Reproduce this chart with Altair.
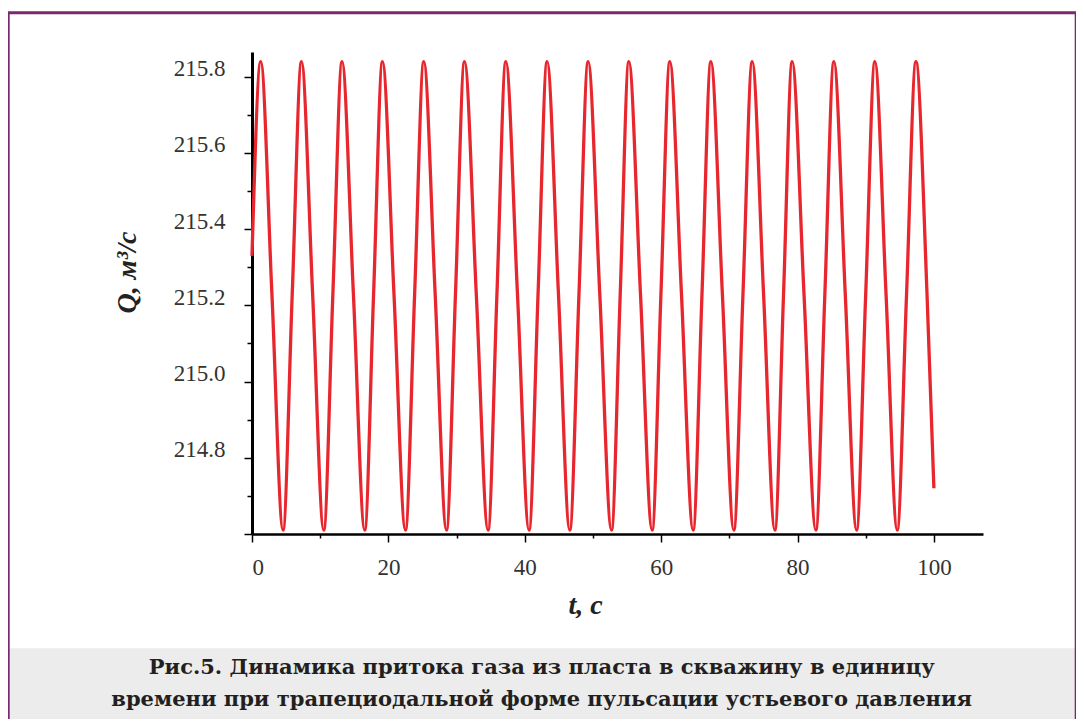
import altair as alt
import pandas as pd

# ---- data ----
peak_t = [1.28, 7.25, 13.20, 19.13, 25.19, 31.16, 37.22, 43.27, 49.29, 55.26,
          61.27, 67.29, 73.35, 79.21, 85.33, 91.34, 97.36]
peak_q = [215.84, 215.84, 215.84, 215.84, 215.84, 215.84, 215.84, 215.84, 215.84,
          215.84, 215.84, 215.84, 215.84, 215.84, 215.84, 215.84, 215.84]
trough_t = [4.55, 10.52, 16.53, 22.50, 28.52, 34.62, 40.63, 46.60, 52.72, 58.68,
            64.69, 70.66, 76.68, 82.69, 88.66, 94.62]
trough_q = [214.61, 214.61, 214.61, 214.61, 214.61, 214.61, 214.61, 214.61,
            214.61, 214.61, 214.61, 214.61, 214.61, 214.61, 214.61, 214.61]
fall_mid_t = [2.92, 8.89, 14.87, 20.82, 26.86, 32.89, 38.93, 44.94, 51.00, 56.97,
              62.98, 68.98, 75.02, 80.95, 87.00, 92.98, 98.99]
fall_mid_q = [215.23, 215.23, 215.23, 215.23, 215.23, 215.23, 215.23, 215.23, 215.23,
              215.23, 215.23, 215.23, 215.23, 215.23, 215.23, 215.23, 215.23]
rise_mid_t = [5.90, 11.86, 17.83, 23.85, 29.84, 35.92, 41.95, 47.95, 54.00, 59.97,
              65.99, 72.00, 77.95, 84.01, 90.00, 95.99]
rise_mid_q = [215.23, 215.23, 215.23, 215.23, 215.23, 215.23, 215.23, 215.23,
              215.23, 215.23, 215.23, 215.23, 215.23, 215.23, 215.23, 215.23]
end_t = [0.0, 100.0]
end_q = [215.33, 214.72]

y_ticks = [214.6, 214.7, 214.8, 214.9, 215.0, 215.1, 215.2, 215.3, 215.4, 215.5,
           215.6, 215.7, 215.8]
x_ticks = [0, 10, 20, 30, 40, 50, 60, 70, 80, 90, 100]

caption_lines = [
    "Рис.5. Динамика притока газа из пласта в скважину в единицу",
    "времени при трапециодальной форме пульсации устьевого давления",
]
x_title = "t, c"
y_title = "Q, м³/с"

df = pd.DataFrame({
    "t": peak_t + trough_t + fall_mid_t + rise_mid_t + end_t,
    "q": peak_q + trough_q + fall_mid_q + rise_mid_q + end_q,
}).sort_values("t")

W, H = 731, 482
one = pd.DataFrame({"k": [0]})
SERIF = "Liberation Serif"

line = alt.Chart(df).mark_line(
    color="#E8262E", strokeWidth=3.3, interpolate="monotone"
).encode(
    x=alt.X("t:Q",
            scale=alt.Scale(domain=[0, 107.2], nice=False, zero=False),
            axis=alt.Axis(
                values=x_ticks, title=x_title,
                labelExpr="datum.value % 20 == 0 ? datum.label : ''",
                tickSize={"condition": {"test": "datum.value % 20 == 0", "value": 8}, "value": 4},
                labelPadding=14,
                titleX=333, titleY=71, titleBaseline="middle", titleAlign="center",
                titleFontSize=28, titleFontStyle="italic", titleFontWeight="bold",
                domainWidth=2.5,
            )),
    y=alt.Y("q:Q",
            scale=alt.Scale(domain=[214.6, 215.865], nice=False, zero=False),
            axis=alt.Axis(
                values=y_ticks, title=y_title, format=".1f",
                labelExpr="(round(datum.value*10) % 2 == 0 && datum.value > 214.7) ? datum.label : ''",
                tickSize={"condition": {"test": "round(datum.value*10) % 2 == 0", "value": 8}, "value": 5},
                labelPadding=19, labelOffset=-8,
                titleX=-125, titleY=220, titleAngle=-90, titleBaseline="middle", titleAlign="center",
                titleFontSize=28, titleFontStyle="italic", titleFontWeight="bold",
                domainWidth=3,
            )),
)

caption_bg = alt.Chart(one).mark_rect(color="#EBECEB").encode(
    x=alt.value(-243.3), x2=alt.value(825), y=alt.value(596.3), y2=alt.value(700)
)
frame = alt.Chart(one).mark_rect(filled=False, stroke="#7A2A6C", strokeWidth=3).encode(
    x=alt.value(-243.8), x2=alt.value(824.2), y=alt.value(-39.2), y2=alt.value(720)
)
cap1 = alt.Chart(one).mark_text(
    font="DejaVu Serif", fontWeight="bold", fontSize=21, color="#231F20",
    align="center", baseline="middle"
).encode(x=alt.value(289.7), y=alt.value(616), text=alt.value(caption_lines[0]))
cap2 = alt.Chart(one).mark_text(
    font="DejaVu Serif", fontWeight="bold", fontSize=21, color="#231F20",
    align="center", baseline="middle"
).encode(x=alt.value(289.7), y=alt.value(648), text=alt.value(caption_lines[1]))

chart = alt.layer(caption_bg, frame, line, cap1, cap2).properties(
    width=W, height=H,
    padding={"left": 244, "top": 44, "right": 93, "bottom": 185},
    autosize=alt.AutoSizeParams(type="none"),
).configure_view(stroke=None).configure_axis(
    grid=False, domainColor="#000000", tickColor="#000000", tickWidth=1.5,
    labelFont=SERIF, labelFontSize=23, labelColor="#333333",
    titleFont=SERIF, titleColor="#222222",
)

chart.save("out.html", embed_options={"renderer": "svg", "actions": False})
